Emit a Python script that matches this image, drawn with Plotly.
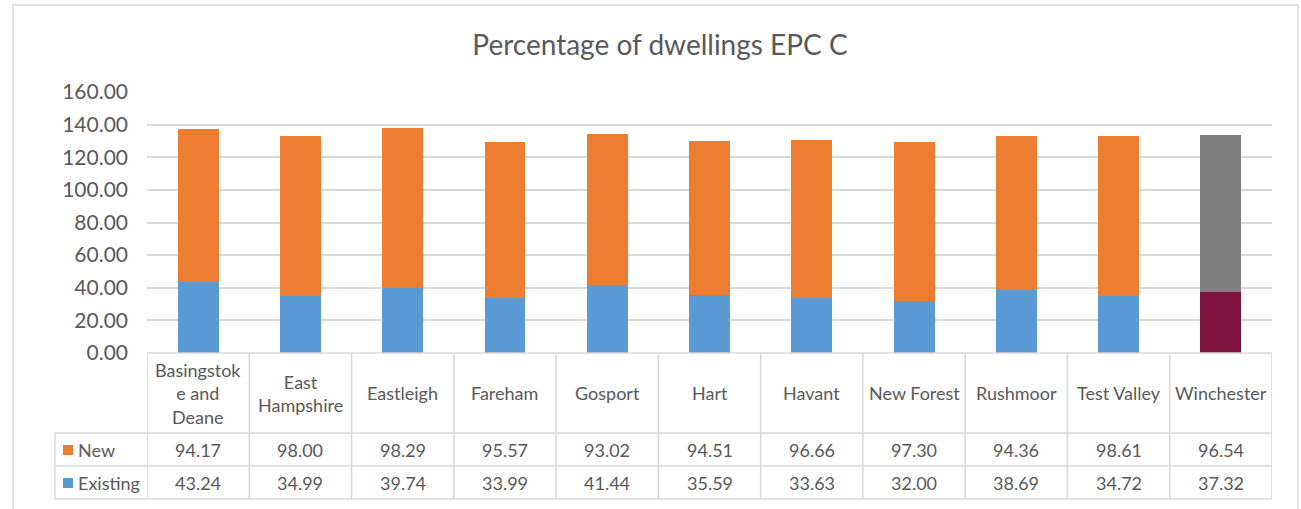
import plotly.graph_objects as go

categories = ["Basingstok<br>e and<br>Deane", "East<br>Hampshire", "Eastleigh", "Fareham", "Gosport",
              "Hart", "Havant", "New Forest", "Rushmoor", "Test Valley", "Winchester"]
new_vals = [94.17, 98.00, 98.29, 95.57, 93.02, 94.51, 96.66, 97.30, 94.36, 98.61, 96.54]
existing_vals = [43.24, 34.99, 39.74, 33.99, 41.44, 35.59, 33.63, 32.00, 38.69, 34.72, 37.32]
series_names = ["New", "Existing"]
y_ticks = [0, 20, 40, 60, 80, 100, 120, 140, 160]

W, H = 1301, 509
L = 147
T = 92
R = W - 1272
B = H - 353
PW = W - L - R
PH = H - T - B

def px_x(px):
    return (px - L) / PW

def px_y(py):
    return (H - B - py) / PH

FONT = "Lato"
TXT = "#595959"
GRID = "#D9D9D9"
ORANGE = "#ED7D31"
BLUE = "#5B9BD5"

n = len(categories)
xs = list(range(n))
exist_colors = [BLUE] * (n - 1) + ["#7F1340"]
new_colors = [ORANGE] * (n - 1) + ["#7F7F7F"]

fig = go.Figure()
fig.add_trace(go.Bar(x=xs, y=existing_vals, name=series_names[1], marker=dict(color=exist_colors, line=dict(width=0)), width=0.4))
fig.add_trace(go.Bar(x=xs, y=new_vals, name=series_names[0], marker=dict(color=new_colors, line=dict(width=0)), width=0.4))

shapes = []
line = dict(color=GRID, width=1.5)
# outer chart border
shapes.append(dict(type="rect", xref="paper", yref="paper", x0=px_x(13), x1=px_x(1298), y0=px_y(530), y1=px_y(5), line=dict(color=GRID, width=1.5), layer="below"))
# table horizontal lines
shapes.append(dict(type="line", xref="x", yref="paper", x0=-0.5, x1=n - 0.5, y0=px_y(353), y1=px_y(353), line=line))
for yy in [433, 466, 499]:
    shapes.append(dict(type="line", xref="paper", yref="paper", x0=px_x(55), x1=1, y0=px_y(yy), y1=px_y(yy), line=line))
# vertical lines
for k in range(n + 1):
    shapes.append(dict(type="line", xref="x", yref="paper", x0=k - 0.5, x1=k - 0.5, y0=px_y(353), y1=px_y(499), line=line))
shapes.append(dict(type="line", xref="paper", yref="paper", x0=px_x(55), x1=px_x(55), y0=px_y(433), y1=px_y(499), line=line))
# legend keys
for yc, col in [(450, ORANGE), (483, BLUE)]:
    shapes.append(dict(type="rect", xref="paper", yref="paper", x0=px_x(63), x1=px_x(73), y0=px_y(yc + 5), y1=px_y(yc - 5), line=dict(width=0), fillcolor=col))

FS = 18
ann = []
for i, c in enumerate(categories):
    ann.append(dict(x=i, y=px_y(393), xref="x", yref="paper", text=c, showarrow=False, font=dict(family=FONT, size=FS, color=TXT), align="center", yanchor="middle"))
    ann.append(dict(x=i, y=px_y(450), xref="x", yref="paper", text=f"{new_vals[i]:.2f}", showarrow=False, font=dict(family=FONT, size=FS, color=TXT), yanchor="middle"))
    ann.append(dict(x=i, y=px_y(483), xref="x", yref="paper", text=f"{existing_vals[i]:.2f}", showarrow=False, font=dict(family=FONT, size=FS, color=TXT), yanchor="middle"))
for yc, name in [(450, series_names[0]), (483, series_names[1])]:
    ann.append(dict(x=px_x(76), y=px_y(yc), xref="paper", yref="paper", text=name, showarrow=False, xanchor="left", yanchor="middle", font=dict(family=FONT, size=FS, color=TXT)))

fig.update_layout(
    width=W, height=H,
    margin=dict(l=L, r=R, t=T, b=B),
    barmode="stack",
    showlegend=False,
    paper_bgcolor="white", plot_bgcolor="white",
    title=dict(text="Percentage of dwellings EPC C", x=660 / W, xanchor="center", y=1 - 45 / H, yanchor="middle",
               font=dict(family=FONT, size=28, color=TXT)),
    xaxis=dict(range=[-0.5, n - 0.5], showticklabels=False, showgrid=False, zeroline=False, ticks=""),
    yaxis=dict(range=[0, 160], tickvals=y_ticks, tickformat=".2f", showgrid=True, gridcolor=GRID, gridwidth=1.5,
               zeroline=False, ticks="", tickfont=dict(family=FONT, size=21, color=TXT), ticklabelstandoff=18),
    shapes=shapes,
    annotations=ann,
)

fig.write_html("out.html", config={"displayModeBar": False},
               post_script="document.body.style.margin='0';document.body.style.overflow='hidden';")
